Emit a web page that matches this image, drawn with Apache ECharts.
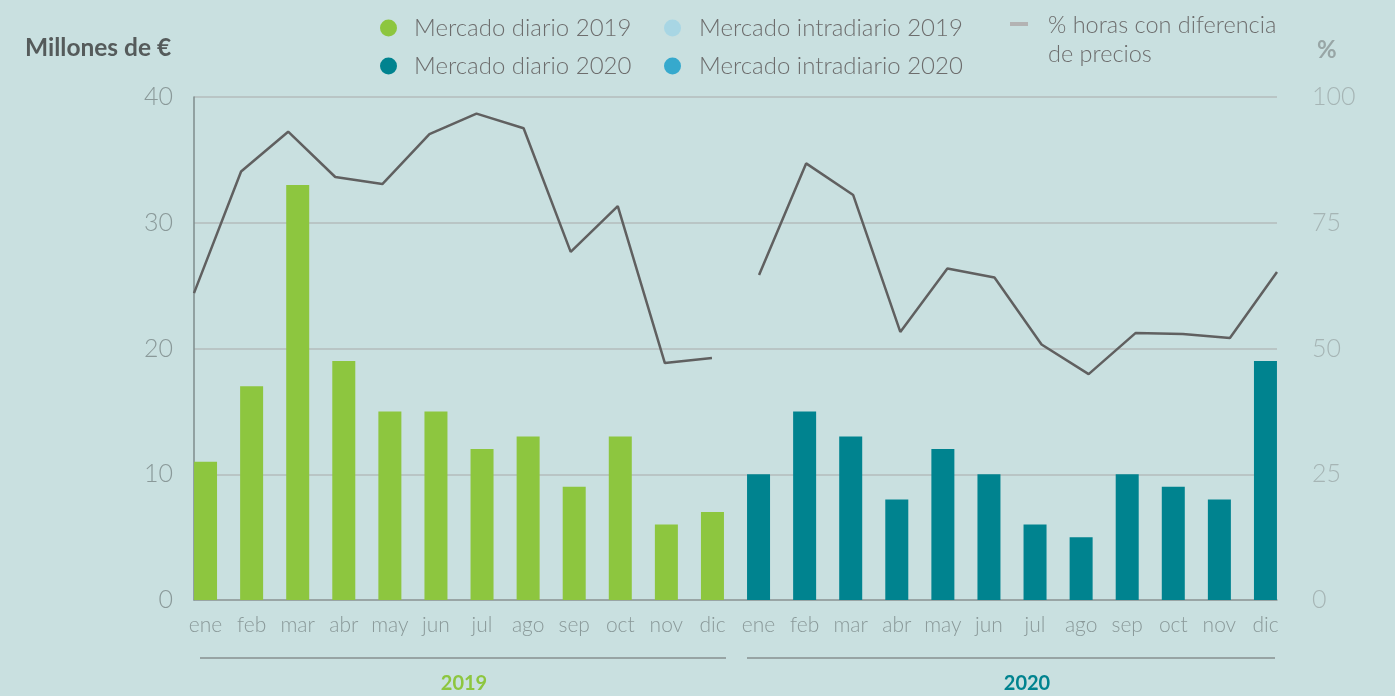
<!DOCTYPE html>
<html>
<head>
<meta charset="utf-8">
<script src="https://cdn.jsdelivr.net/npm/echarts@6/dist/echarts.min.js"></script>
<style>
  html, body { margin: 0; padding: 0; background: #c9e0e0; }
  #chart { width: 1395px; height: 696px; }
</style>
</head>
<body>
<div id="chart"></div>
<script>
// Months shown under each bar (two years side by side)
const months = ['ene','feb','mar','abr','may','jun','jul','ago','sep','oct','nov','dic'];
const categories = months.concat(months);

// Millones de € (left axis)
const diario2019 = [11, 17, 33, 19, 15, 15, 12, 13, 9, 13, 6, 7];
const diario2020 = [10, 15, 13, 8, 12, 10, 6, 5, 10, 9, 8, 19];
const intradiario2019 = [0, 0, 0, 0, 0, 0, 0, 0, 0, 0, 0, 0];
const intradiario2020 = [0, 0, 0, 0, 0, 0, 0, 0, 0, 0, 0, 0];

// % horas con diferencia de precios (right axis)
const horas2019 = [61.0, 85.2, 93.1, 84.1, 82.7, 92.6, 96.7, 93.8, 69.2, 78.3, 47.1, 48.1];
const horas2020 = [64.6, 86.8, 80.5, 53.3, 65.9, 64.1, 50.8, 44.9, 53.1, 52.9, 52.1, 65.2];

const leftTicks = [0, 10, 20, 30, 40];
const rightTicks = [0, 25, 50, 75, 100];

const empty = months.map(() => '-');
const first = arr => arr.concat(empty);
const second = arr => empty.concat(arr);

const GREEN = '#8dc63f';
const TEAL = '#00838f';
const LIGHTBLUE = '#a8d6e4';
const BLUE = '#36a9cd';
const FONT = 'Lato, "Open Sans", sans-serif';

const chart = echarts.init(document.getElementById('chart'));

chart.setOption({
  backgroundColor: '#c9e0e0',
  animation: false,
  textStyle: { fontFamily: FONT },
  grid: [
    // bars
    { left: 182.5, width: 1106, top: 97, height: 503 },
    // line and value axes
    { left: 194, width: 1083, top: 97, height: 503 }
  ],
  legend: [
    {
      left: 375, top: 11, orient: 'vertical', itemGap: 14,
      icon: 'circle', itemWidth: 17, itemHeight: 17,
      textStyle: { fontSize: 24, color: '#6d6d6d', fontWeight: 300, fontFamily: FONT, padding: [0, 0, 0, 12] },
      selectedMode: false,
      data: ['Mercado diario 2019', 'Mercado diario 2020']
    },
    {
      left: 659, top: 11, orient: 'vertical', itemGap: 14,
      icon: 'circle', itemWidth: 17, itemHeight: 17,
      textStyle: { fontSize: 24, color: '#6d6d6d', fontWeight: 300, fontFamily: FONT, padding: [0, 0, 0, 13] },
      selectedMode: false,
      data: ['Mercado intradiario 2019', 'Mercado intradiario 2020']
    }
  ],
  xAxis: [
    {
      type: 'category', gridIndex: 0, data: categories, boundaryGap: true,
      axisLine: { show: false }, axisTick: { show: false },
      axisLabel: { color: '#8a9999', fontSize: 21, fontWeight: 300, margin: 15, interval: 0, fontFamily: FONT }
    },
    {
      type: 'category', gridIndex: 1, data: categories, boundaryGap: false,
      axisLine: { show: true, lineStyle: { color: '#8e9b9b', width: 1.5 } },
      axisTick: { show: false }, axisLabel: { show: false }
    }
  ],
  yAxis: [
    {
      type: 'value', gridIndex: 1, position: 'left', min: leftTicks[0], max: leftTicks[leftTicks.length - 1], interval: 10,
      axisLine: { show: true, lineStyle: { color: '#7e8c8c', width: 1.5 } },
      axisTick: { show: false },
      axisLabel: { color: '#8a9999', fontSize: 25, fontWeight: 300, margin: 21, fontFamily: FONT },
      splitLine: { show: true, lineStyle: { color: '#b9c5c5', width: 2 } }
    },
    {
      type: 'value', gridIndex: 1, position: 'right', min: rightTicks[0], max: rightTicks[rightTicks.length - 1], interval: 25,
      axisLine: { show: false }, axisTick: { show: false },
      axisLabel: { color: '#a6b5b5', fontSize: 25, fontWeight: 300, margin: 35, fontFamily: FONT },
      splitLine: { show: false }
    },
    {
      type: 'value', gridIndex: 0, min: leftTicks[0], max: leftTicks[leftTicks.length - 1], show: false
    }
  ],
  series: [
    {
      name: 'Mercado diario 2019', type: 'bar', xAxisIndex: 0, yAxisIndex: 2, stack: 'm',
      barWidth: 23, itemStyle: { color: GREEN }, data: first(diario2019)
    },
    {
      name: 'Mercado intradiario 2019', type: 'bar', xAxisIndex: 0, yAxisIndex: 2, stack: 'm',
      barWidth: 23, itemStyle: { color: LIGHTBLUE }, data: first(intradiario2019)
    },
    {
      name: 'Mercado diario 2020', type: 'bar', xAxisIndex: 0, yAxisIndex: 2, stack: 'm',
      barWidth: 23, itemStyle: { color: TEAL }, data: second(diario2020)
    },
    {
      name: 'Mercado intradiario 2020', type: 'bar', xAxisIndex: 0, yAxisIndex: 2, stack: 'm',
      barWidth: 23, itemStyle: { color: BLUE }, data: second(intradiario2020)
    },
    {
      name: '% horas con diferencia de precios', type: 'line', xAxisIndex: 1, yAxisIndex: 1,
      symbol: 'none', lineStyle: { color: '#606060', width: 2.5 }, itemStyle: { color: '#606060' },
      data: first(horas2019)
    },
    {
      name: '% horas con diferencia de precios', type: 'line', xAxisIndex: 1, yAxisIndex: 1,
      symbol: 'none', lineStyle: { color: '#606060', width: 2.5 }, itemStyle: { color: '#606060' },
      data: second(horas2020)
    }
  ],
  graphic: [
    { type: 'text', left: 25, top: 36, style: { text: 'Millones de €', fontSize: 24.5, fontWeight: 'bold', fill: '#555b5b', fontFamily: FONT } },
    { type: 'text', left: 1317, top: 38, style: { text: '%', fontSize: 24, fontWeight: 'bold', fill: '#98a6a6', fontFamily: FONT } },
    // line legend entry
    { type: 'rect', shape: { x: 1010, y: 22, width: 18, height: 4 }, style: { fill: '#b3b3b3' } },
    { type: 'text', left: 1048, top: 11, style: { text: '% horas con diferencia\nde precios', fontSize: 23.5, lineHeight: 29, fontWeight: 300, fill: '#6d6d6d', fontFamily: FONT } },
    // year brackets
    { type: 'line', shape: { x1: 200, y1: 658, x2: 726, y2: 658 }, style: { stroke: '#97a4a4', lineWidth: 2 } },
    { type: 'line', shape: { x1: 747, y1: 658, x2: 1275, y2: 658 }, style: { stroke: '#97a4a4', lineWidth: 2 } },
    { type: 'text', x: 464, y: 684, style: { text: '2019', fontSize: 20, fontWeight: 'bold', fill: GREEN, fontFamily: FONT, align: 'center', verticalAlign: 'middle' } },
    { type: 'text', x: 1027, y: 684, style: { text: '2020', fontSize: 20, fontWeight: 'bold', fill: TEAL, fontFamily: FONT, align: 'center', verticalAlign: 'middle' } }
  ]
});
</script>
</body>
</html>
